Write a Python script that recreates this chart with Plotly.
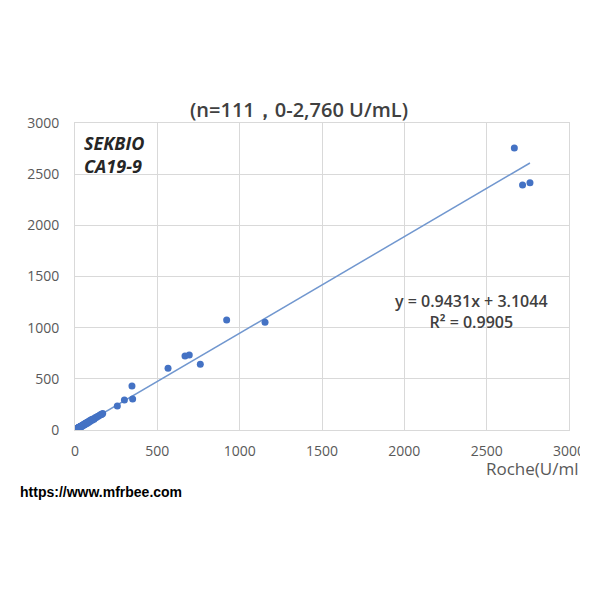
import plotly.graph_objects as go

# Roche vs SEKBIO CA19-9 (U/mL)
roche_low = [0.8, 1.1, 1.5, 1.9, 2.2, 2.6, 3.0, 3.3, 3.7, 4.1, 4.5, 4.9, 5.3, 5.8, 6.2, 6.7, 7.1, 7.6,
             8.2, 8.8, 9.3, 9.9, 10.6, 11.2, 11.9, 12.6, 13.4, 14.1, 15.0, 15.8, 16.7, 17.6, 18.5,
             19.6, 20.7, 21.8, 23.0, 24.3, 25.6, 27.0, 28.5, 30.1, 31.8, 33.5, 35.3, 37.2, 39.3,
             41.5, 43.8, 46.2, 48.7, 51.4, 54.3, 57.2, 60.4, 63.7, 67.2, 70.9, 74.8, 79.0, 83.4,
             88.1, 93.0, 98.2, 103.7, 109.5, 115.6, 122.0, 128.8, 136.0, 143.5, 151.4, 159.7, 168.3,
             0.5, 1.3, 2.4, 3.5, 4.7, 6.0, 7.4, 9.0, 10.9, 13.0, 15.4, 18.1, 21.2, 24.9, 29.3, 34.4,
             40.4, 47.4, 55.7, 65.4, 77.0, 90.6, 106.2]
sekbio_low = [1.5, 0.9, 2.3, 1.4, 3.0, 2.1, 4.2, 2.8, 3.9, 5.6, 3.7, 6.1, 4.8, 7.2, 5.5, 8.0, 6.4, 9.3,
              7.1, 10.2, 8.4, 11.5, 9.2, 12.8, 10.4, 13.9, 11.7, 15.2, 13.1, 17.0, 14.3, 18.8, 16.2,
              20.9, 17.8, 23.1, 20.4, 25.7, 22.6, 28.4, 24.9, 31.6, 27.9, 34.8, 31.2, 38.9, 34.6,
              42.7, 38.5, 47.1, 43.9, 52.6, 48.2, 58.9, 54.7, 65.2, 60.3, 72.8, 67.1, 80.4, 76.2,
              89.7, 84.5, 99.8, 94.1, 108.6, 104.3, 118.9, 121.5, 131.2, 137.8, 146.6, 150.3, 160.1,
              0.6, 1.8, 1.7, 3.4, 4.4, 6.6, 7.5, 9.6, 10.8, 12.5, 15.9, 17.5, 21.6, 23.8, 29.0, 33.2,
              39.7, 46.0, 53.9, 63.0, 73.6, 88.1, 101.7]

roche_high = [162, 257, 300, 346, 350, 565, 668, 694, 761, 921, 1154, 2668, 2718, 2763]
sekbio_high = [153, 235, 293, 430, 303, 603, 723, 733, 642, 1075, 1052, 2755, 2394, 2417]

roche = roche_low + roche_high
sekbio = sekbio_low + sekbio_high

# regresión lineal mostrada en el gráfico
pendiente = 0.9431
intercepto = 3.1044
r2 = 0.9905

tick_vals = [0, 500, 1000, 1500, 2000, 2500, 3000]

trend_x = [min(roche), max(roche)]
trend_y = [pendiente * v + intercepto for v in trend_x]

# la página deja ~8px de margen en el body
OFF = 8
izq, der, arriba, abajo = 75 - OFF, 569 - OFF, 123 - OFF, 430 - OFF
ancho_plot = der - izq
alto_plot = abajo - arriba


def px_x(p):
    return (p - OFF - izq) / ancho_plot


def px_y(p):
    return (abajo - (p - OFF)) / alto_plot


gris = '#595959'

fig = go.Figure()
fig.add_trace(go.Scatter(x=trend_x, y=trend_y, mode='lines',
                         line=dict(color='#7197cf', width=1.5), hoverinfo='skip'))
fig.add_trace(go.Scatter(x=roche, y=sekbio, mode='markers',
                         marker=dict(color='#4472c4', size=7)))

fig.update_layout(
    width=600, height=600,
    margin=dict(l=izq, r=600 - der, t=arriba, b=600 - abajo),
    plot_bgcolor='white', paper_bgcolor='white',
    showlegend=False,
    font=dict(family='Open Sans', color=gris),
    title=dict(text='(n=111，0-2,760 U/mL)', xref='container', x=(299 - OFF) / 600, xanchor='center',
               yref='container', y=1 - (110 - OFF) / 600, yanchor='middle',
               font=dict(size=20, color='#404040', family='Open Sans', weight=600)),
)
fig.update_xaxes(range=[0, 3000], tickvals=tick_vals, showgrid=True, gridcolor='#d9d9d9',
                 showline=True, linecolor='#d9d9d9', mirror=True, zeroline=False,
                 ticks='', ticklabelstandoff=8, tickfont=dict(size=14, color=gris))
fig.update_yaxes(range=[0, 3000], tickvals=tick_vals, showgrid=True, gridcolor='#d9d9d9',
                 showline=True, linecolor='#d9d9d9', mirror=True, zeroline=False,
                 ticks='', ticklabelstandoff=12, tickfont=dict(size=14, color=gris))

# textos
fig.add_annotation(text='<b><i>SEKBIO<br>CA19-9</i></b>', xref='paper', yref='paper',
                   x=px_x(82), y=px_y(129), xanchor='left', yanchor='top', align='left', showarrow=False,
                   font=dict(size=18, color='#262626', family='Open Sans'))
fig.add_annotation(text=f'y = {pendiente}x + {intercepto}<br>R² = {r2}', xref='paper', yref='paper',
                   x=px_x(471), y=px_y(311), xanchor='center', yanchor='middle', align='center',
                   showarrow=False, font=dict(size=16, color='#404040', family='Open Sans', weight=600))
fig.add_annotation(text='Roche(U/ml', xref='paper', yref='paper',
                   x=px_x(581), y=px_y(468), xanchor='right', yanchor='middle',
                   showarrow=False, font=dict(size=17, color=gris, family='Open Sans'))
fig.add_annotation(text='<b>https://www.mfrbee.com</b>', xref='paper', yref='paper',
                   x=px_x(18), y=px_y(492), xanchor='left', yanchor='middle',
                   showarrow=False, font=dict(size=14, color='black', family='Liberation Sans'))

# borde derecho recortado como en la imagen original
fig.add_shape(type='rect', xref='paper', yref='paper', x0=px_x(580), x1=1.2,
              y0=-0.3, y1=1.2, fillcolor='white', line=dict(width=0), layer='above')

fig.write_html('out.html')
